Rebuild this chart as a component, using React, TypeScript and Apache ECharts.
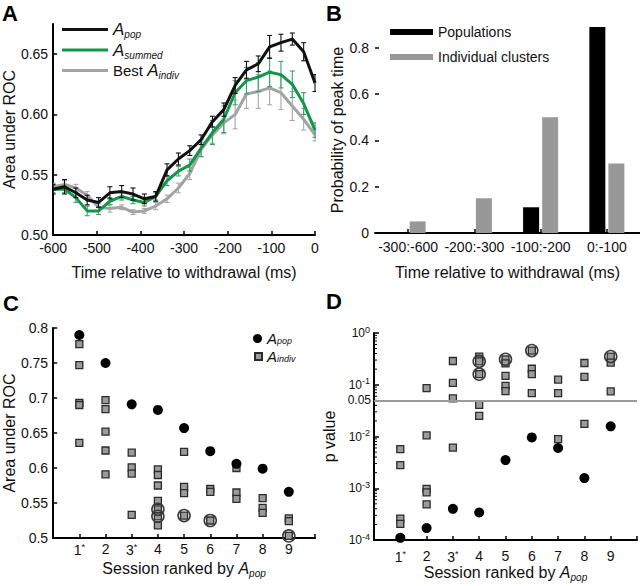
import React, { useEffect, useRef } from 'react';
import * as echarts from 'echarts';

const FONT = '"Liberation Sans", Arial, Helvetica, sans-serif';

// ---------- Panel A ----------
const timeMs = [-600, -574, -548, -522, -496, -470, -443, -417, -391, -365, -339, -313, -287, -261, -235, -209, -183, -157, -130, -104, -78, -52, -26, 0];
const aPop = [0.538, 0.540, 0.535, 0.529, 0.527, 0.535, 0.536, 0.534, 0.530, 0.532, 0.554, 0.563, 0.570, 0.579, 0.594, 0.604, 0.624, 0.637, 0.642, 0.656, 0.6595, 0.6625, 0.652, 0.626];
const aPopErr = [0.004, 0.006, 0.004, 0.004, 0.004, 0.005, 0.005, 0.005, 0.004, 0.004, 0.005, 0.005, 0.004, 0.004, 0.0045, 0.0055, 0.0065, 0.007, 0.0065, 0.0095, 0.007, 0.005, 0.0075, 0.007];
const aSummed = [0.538, 0.538, 0.531, 0.520, 0.520, 0.528, 0.532, 0.529, 0.527, 0.532, 0.545, 0.553, 0.558, 0.572, 0.585, 0.596, 0.618, 0.628, 0.631, 0.635, 0.633, 0.625, 0.609, 0.587];
const aSummedErr = [0.003, 0.003, 0.004, 0.004, 0.003, 0.003, 0.003, 0.003, 0.003, 0.003, 0.004, 0.004, 0.005, 0.007, 0.01, 0.011, 0.01, 0.011, 0.012, 0.012, 0.011, 0.011, 0.009, 0.006];
const aIndiv = [0.540, 0.542, 0.539, 0.533, 0.523, 0.522, 0.523, 0.519, 0.520, 0.524, 0.530, 0.539, 0.551, 0.571, 0.583, 0.593, 0.600, 0.617, 0.619, 0.622, 0.618, 0.607, 0.596, 0.583];
const aIndivErr = [0.003, 0.003, 0.003, 0.003, 0.003, 0.003, 0.002, 0.002, 0.002, 0.003, 0.003, 0.004, 0.005, 0.006, 0.007, 0.009, 0.012, 0.012, 0.014, 0.014, 0.014, 0.012, 0.009, 0.005];

// ---------- Panel B ----------
const bCategories = ['-300:-600', '-200:-300', '-100:-200', '0:-100'];
const bPopulations = [0, 0, 0.111, 0.889];
const bIndividual = [0.05, 0.15, 0.5, 0.3];

// ---------- Panel C ----------
const sessions = [1, 2, 3, 4, 5, 6, 7, 8, 9];
const cApop = [0.790, 0.750, 0.691, 0.683, 0.657, 0.624, 0.606, 0.599, 0.566];
const cIndiv = [
  [0.777, 0.747, 0.693, 0.690, 0.636],
  [0.697, 0.684, 0.652, 0.625, 0.591],
  [0.622, 0.601, 0.592, 0.533],
  [0.598, 0.590, 0.575, 0.553, 0.541, 0.531, 0.518],
  [0.623, 0.573, 0.564, 0.532],
  [0.570, 0.566, 0.525],
  [0.600, 0.565, 0.556],
  [0.557, 0.543, 0.536],
  [0.528, 0.524, 0.503],
];
const cRings = [[4, 0.541], [4, 0.531], [5, 0.532], [6, 0.525], [9, 0.503]];

// ---------- Panel D ----------
const dApop = [1.1e-4, 1.7e-4, 4.0e-4, 3.4e-4, 0.0035, 0.0096, 0.006, 0.00157, 0.0157];
const dIndiv = [
  [0.0057, 0.0028, 2.6e-4, 2.05e-4],
  [0.0857, 0.0105, 9.7e-4, 8.3e-4, 4.9e-4],
  [0.288, 0.109, 0.0547, 0.0061],
  [0.35, 0.311, 0.284, 0.16, 0.041, 0.025],
  [0.31, 0.26, 0.149, 0.095, 0.075],
  [0.458, 0.204, 0.161, 0.069],
  [0.126, 0.069, 0.0089],
  [0.263, 0.142, 0.0175],
  [0.35, 0.267, 0.0748],
];
const dRings = [[4, 0.284], [4, 0.16], [5, 0.31], [6, 0.458], [9, 0.35]];
const dThreshold = 0.05;
const logDecades = [1e-4, 1e-3, 1e-2, 1e-1];
const logMinorMultipliers = [2, 3, 4, 5, 6, 7, 8, 9];

const BLACK = '#111111';
const GREEN = '#13964a';
const GREEN_ERR = '#3aa36a';
const GRAY = '#a3a3a3';
const GRAY_ERR = '#a8a8a8';
const SQ_FILL = '#9b9b9b';
const SQ_BORDER = '#2b2b2b';

function errSeries(color: string, vals: number[], errs: number[], z: number) {
  return {
    type: 'custom',
    xAxisIndex: 0,
    yAxisIndex: 0,
    silent: true,
    clip: true,
    z,
    data: timeMs.map((t, i) => [t, vals[i] - errs[i], vals[i] + errs[i]]),
    encode: { x: 0, y: [1, 2] },
    renderItem: (params: any, api: any) => {
      const lo = api.coord([api.value(0), api.value(1)]);
      const hi = api.coord([api.value(0), api.value(2)]);
      const w = 2.5;
      const style = { stroke: color, lineWidth: 1.1, fill: null };
      return {
        type: 'group',
        children: [
          { type: 'line', shape: { x1: lo[0], y1: lo[1], x2: hi[0], y2: hi[1] }, style },
          { type: 'line', shape: { x1: lo[0] - w, y1: lo[1], x2: lo[0] + w, y2: lo[1] }, style },
          { type: 'line', shape: { x1: hi[0] - w, y1: hi[1], x2: hi[0] + w, y2: hi[1] }, style },
        ],
      };
    },
  };
}

const axisLineStyle = { onZero: false, lineStyle: { color: '#000', width: 2 } };
const tickIn = { show: true, inside: true, length: 4, lineStyle: { color: '#000', width: 1.5 } };
const nameStyle = (extra: any = {}) => ({
  fontSize: 16,
  color: '#111',
  fontFamily: FONT,
  ...extra,
});
const subRich = {
  i: { fontSize: 17, fontStyle: 'italic', fontFamily: FONT, color: '#111', lineHeight: 20 },
  s: { fontSize: 10, fontStyle: 'italic', fontFamily: FONT, color: '#111', lineHeight: 12, verticalAlign: 'bottom' },
  n: { fontSize: 15, fontFamily: FONT, color: '#111', lineHeight: 20 },
};
const smallRich = {
  i: { fontSize: 15, fontStyle: 'italic', fontFamily: FONT, color: '#111', lineHeight: 14 },
  s: { fontSize: 9, fontStyle: 'italic', fontFamily: FONT, color: '#111', lineHeight: 8, verticalAlign: 'bottom' },
};
const sessionLabel = (v: number) => {
  if (v < 1 || v > 9) return '';
  if (v === 1 || v === 3) return `${v}{sup|*}`;
  return `${v}`;
};
const sessionRich = {
  sup: { fontSize: 9, verticalAlign: 'top', lineHeight: 16, fontFamily: FONT, color: '#111' },
};

export default function App() {
  const ref = useRef<HTMLDivElement>(null);
  useEffect(() => {
    document.body.style.margin = '0';
    const chart = echarts.init(ref.current!, undefined, { renderer: 'svg' });

    const cSquares = cIndiv.flatMap((arr, i) => arr.map((v) => [sessions[i], v]));
    const dSquares = dIndiv.flatMap((arr, i) => arr.map((v) => [sessions[i], v]));
    const minorTicks = logDecades.flatMap((d) => logMinorMultipliers.map((m) => [0, d * m]));

    const option: any = {
      animation: false,
      textStyle: { fontFamily: FONT },
      grid: [
        { left: 49, top: 24, width: 266, height: 211 },
        { left: 375, top: 27, width: 265, height: 206 },
        { left: 50, top: 328, width: 265, height: 210 },
        { left: 374, top: 333, width: 266, height: 207 },
      ],
      xAxis: [
        {
          gridIndex: 0, type: 'value', min: -600, max: 0, interval: 100,
          axisLine: axisLineStyle, axisTick: tickIn, splitLine: { show: false },
          axisLabel: { fontSize: 14, color: '#111', margin: 6 },
          name: 'Time relative to withdrawal (ms)', nameLocation: 'middle', nameGap: 29,
          nameTextStyle: nameStyle(),
        },
        {
          gridIndex: 1, type: 'category', data: bCategories,
          axisLine: axisLineStyle, axisTick: { ...tickIn, alignWithLabel: true },
          axisLabel: { fontSize: 14, color: '#111', margin: 7, interval: 0 },
          name: 'Time relative to withdrawal (ms)', nameLocation: 'middle', nameGap: 31,
          nameTextStyle: nameStyle(),
        },
        {
          gridIndex: 2, type: 'value', min: 0, max: 10, interval: 1,
          axisLine: axisLineStyle, axisTick: tickIn, splitLine: { show: false },
          axisLabel: { fontSize: 14, color: '#111', margin: 4, formatter: sessionLabel, rich: sessionRich },
          name: 'Session ranked by {i|A}{s|pop}', nameLocation: 'middle', nameGap: 20,
          nameTextStyle: nameStyle({ rich: { ...subRich, i: { ...subRich.i, fontSize: 16 } } }),
        },
        {
          gridIndex: 3, type: 'value', min: 0, max: 10, interval: 1,
          axisLine: axisLineStyle, axisTick: tickIn, splitLine: { show: false },
          axisLabel: { fontSize: 14, color: '#111', margin: 9, formatter: sessionLabel, rich: sessionRich },
          name: 'Session ranked by {i|A}{s|pop}', nameLocation: 'middle', nameGap: 22,
          nameTextStyle: nameStyle({ rich: { ...subRich, i: { ...subRich.i, fontSize: 16 } } }),
        },
      ],
      yAxis: [
        {
          gridIndex: 0, type: 'value', min: 0.5, max: 0.675, interval: 0.05,
          axisLine: axisLineStyle, axisTick: tickIn, splitLine: { show: false },
          axisLabel: { fontSize: 14, color: '#111', margin: 5, showMaxLabel: false, formatter: (v: number) => v.toFixed(2) },
          name: 'Area under ROC', nameLocation: 'middle', nameGap: 32,
          nameTextStyle: nameStyle(),
        },
        {
          gridIndex: 1, type: 'value', min: 0, max: 8 / 9, interval: 0.2,
          axisLine: axisLineStyle, axisTick: tickIn, splitLine: { show: false },
          axisLabel: { fontSize: 14, color: '#111', margin: 6, showMaxLabel: false, formatter: (v: number) => (v === 0 ? '0' : String(Math.round(v * 10) / 10)) },
          name: 'Probability of peak time', nameLocation: 'middle', nameGap: 30,
          nameTextStyle: nameStyle(),
        },
        {
          gridIndex: 2, type: 'value', min: 0.5, max: 0.8, interval: 0.05,
          axisLine: axisLineStyle, axisTick: tickIn, splitLine: { show: false },
          axisLabel: { fontSize: 14, color: '#111', margin: 5, formatter: (v: number) => String(Math.round(v * 100) / 100) },
          name: 'Area under ROC', nameLocation: 'middle', nameGap: 33,
          nameTextStyle: nameStyle(),
        },
        {
          gridIndex: 3, type: 'log', logBase: 10, min: 1e-4, max: 1,
          axisLine: axisLineStyle, axisTick: { ...tickIn, length: 5 }, splitLine: { show: false },
          axisLabel: {
            fontSize: 12, color: '#111', margin: 4,
            formatter: (v: number) => `10{sup|${Math.round(Math.log10(v))}}`,
            rich: { sup: { fontSize: 9, verticalAlign: 'top', lineHeight: 16, fontFamily: FONT, color: '#111' } },
          },
          name: 'p value', nameLocation: 'middle', nameGap: 37,
          nameTextStyle: nameStyle(),
        },
      ],
      legend: [
        {
          left: 62, top: 21, padding: 0, orient: 'vertical', icon: 'rect', itemWidth: 46, itemHeight: 3, itemGap: 2,
          data: ['Apop', 'Asummed', 'BestAindiv'],
          formatter: (name: string) =>
            name === 'Apop' ? '{i|A}{s|pop}' : name === 'Asummed' ? '{i|A}{s|summed}' : '{n|Best }{i|A}{s|indiv}',
          textStyle: { rich: subRich },
        },
        {
          left: 390, top: 23, padding: 0, orient: 'vertical', icon: 'rect', itemWidth: 43, itemHeight: 6, itemGap: 7,
          data: ['Populations', 'Individual clusters'],
          textStyle: { fontSize: 14, color: '#111', fontFamily: FONT, lineHeight: 18 },
        },
        {
          left: 253, top: 331, padding: 0, icon: 'circle', itemWidth: 9, itemHeight: 9,
          data: ['cApop'],
          formatter: () => '{i|A}{s|pop}',
          textStyle: { rich: smallRich },
        },
        {
          left: 254, top: 349, padding: 0, icon: 'rect', itemWidth: 7, itemHeight: 7,
          data: ['cAindiv'],
          formatter: () => '{i|A}{s|indiv}',
          textStyle: { rich: smallRich },
        },
      ],
      graphic: [
        { type: 'text', left: 2, top: 2, style: { text: 'A', fontSize: 22, fontWeight: 'bold', fontFamily: FONT, fill: '#000' } },
        { type: 'text', left: 326, top: 2, style: { text: 'B', fontSize: 22, fontWeight: 'bold', fontFamily: FONT, fill: '#000' } },
        { type: 'text', left: 3, top: 292, style: { text: 'C', fontSize: 22, fontWeight: 'bold', fontFamily: FONT, fill: '#000' } },
        { type: 'text', left: 326, top: 290, style: { text: 'D', fontSize: 22, fontWeight: 'bold', fontFamily: FONT, fill: '#000' } },
      ],
      series: [
        // Panel A
        errSeries(GRAY_ERR, aIndiv, aIndivErr, 2),
        {
          name: 'BestAindiv', type: 'line', xAxisIndex: 0, yAxisIndex: 0, z: 3,
          data: timeMs.map((t, i) => [t, aIndiv[i]]), showSymbol: false, symbol: 'none',
          lineStyle: { color: GRAY, width: 3 }, itemStyle: { color: GRAY },
        },
        errSeries(GREEN_ERR, aSummed, aSummedErr, 4),
        {
          name: 'Asummed', type: 'line', xAxisIndex: 0, yAxisIndex: 0, z: 5,
          data: timeMs.map((t, i) => [t, aSummed[i]]), showSymbol: false, symbol: 'none',
          lineStyle: { color: GREEN, width: 3 }, itemStyle: { color: GREEN },
        },
        errSeries(BLACK, aPop, aPopErr, 6),
        {
          name: 'Apop', type: 'line', xAxisIndex: 0, yAxisIndex: 0, z: 7,
          data: timeMs.map((t, i) => [t, aPop[i]]), showSymbol: false, symbol: 'none',
          lineStyle: { color: BLACK, width: 3 }, itemStyle: { color: BLACK },
        },
        // Panel B
        {
          name: 'Populations', type: 'bar', xAxisIndex: 1, yAxisIndex: 1,
          data: bPopulations, barWidth: 16, barGap: '19%', itemStyle: { color: '#000' },
        },
        {
          name: 'Individual clusters', type: 'bar', xAxisIndex: 1, yAxisIndex: 1,
          data: bIndividual, barWidth: 16, itemStyle: { color: '#989898' },
        },
        // Panel C
        {
          name: 'cAindiv', type: 'scatter', xAxisIndex: 2, yAxisIndex: 2, symbol: 'rect', symbolSize: 7,
          data: cSquares, itemStyle: { color: SQ_FILL, borderColor: SQ_BORDER, borderWidth: 1.3, opacity: 1 },
        },
        {
          name: 'cApop', type: 'scatter', xAxisIndex: 2, yAxisIndex: 2, symbol: 'circle', symbolSize: 10,
          data: sessions.map((s, i) => [s, cApop[i]]), itemStyle: { color: '#000', opacity: 1 },
        },
        {
          name: 'cRing', type: 'scatter', xAxisIndex: 2, yAxisIndex: 2, symbol: 'circle', symbolSize: 12, silent: true,
          data: cRings, itemStyle: { color: 'rgba(0,0,0,0)', borderColor: '#3a3a3a', borderWidth: 1.6, opacity: 1 },
        },
        // Panel D
        {
          name: 'dThreshold', type: 'scatter', xAxisIndex: 3, yAxisIndex: 3, data: [], z: 1, silent: true,
          markLine: {
            silent: true, symbol: 'none', animation: false,
            lineStyle: { color: '#9a9a9a', width: 2, type: 'solid' },
            label: { show: true, position: 'start', formatter: '0.05', fontSize: 12, color: '#111', distance: 3, fontFamily: FONT },
            data: [{ yAxis: dThreshold }],
          },
        },
        {
          name: 'dMinorTicks', type: 'custom', xAxisIndex: 3, yAxisIndex: 3, silent: true, z: 1,
          data: minorTicks, encode: { x: 0, y: 1 },
          renderItem: (params: any, api: any) => {
            const p = api.coord([api.value(0), api.value(1)]);
            return { type: 'line', shape: { x1: p[0], y1: p[1], x2: p[0] + 3, y2: p[1] }, style: { stroke: '#000', lineWidth: 1 } };
          },
        },
        {
          name: 'dAindiv', type: 'scatter', xAxisIndex: 3, yAxisIndex: 3, symbol: 'rect', symbolSize: 7,
          data: dSquares, itemStyle: { color: SQ_FILL, borderColor: SQ_BORDER, borderWidth: 1.3, opacity: 1 },
        },
        {
          name: 'dApop', type: 'scatter', xAxisIndex: 3, yAxisIndex: 3, symbol: 'circle', symbolSize: 10,
          data: sessions.map((s, i) => [s, dApop[i]]), itemStyle: { color: '#000', opacity: 1 },
        },
        {
          name: 'dRing', type: 'scatter', xAxisIndex: 3, yAxisIndex: 3, symbol: 'circle', symbolSize: 12, silent: true,
          data: dRings, itemStyle: { color: 'rgba(0,0,0,0)', borderColor: '#3a3a3a', borderWidth: 1.6, opacity: 1 },
        },
      ],
    };
    chart.setOption(option);
    return () => chart.dispose();
  }, []);
  return <div ref={ref} style={{ width: 640, height: 586 }} />;
}
